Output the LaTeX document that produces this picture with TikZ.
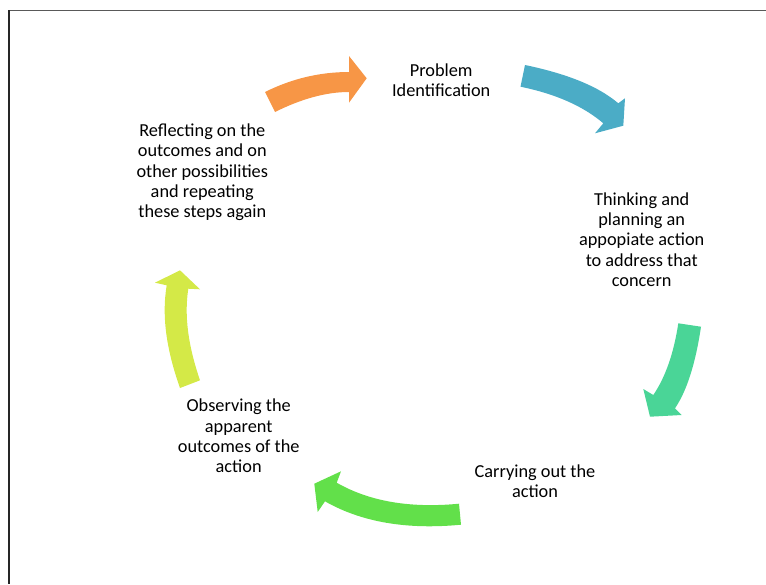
\documentclass[tikz,border=0pt]{standalone}
\usepackage{fontspec}
\setmainfont{Carlito}

\definecolor{cycorange}{HTML}{F79646}
\definecolor{cycblue}{HTML}{4BACC6}
\definecolor{cycteal}{HTML}{4AD597}
\definecolor{cycgreen}{HTML}{62E04A}
\definecolor{cycyellow}{HTML}{D4E947}

\begin{document}
\begin{tikzpicture}[x=1pt,y=-1pt,
        steptext/.style={align=center,anchor=base,inner sep=0pt,
            font=\fontsize{18.3}{20.3}\selectfont}]

        \useasboundingbox (0,0) rectangle (766,584);

        % Frame lines at top and left
        \draw[black!65,line width=1pt] (9.3,10.3) -- (766,10.3);
        \draw[black!85,line width=2pt] (9.3,10.3) -- (9.3,584);

        % The five steps of the cycle (placed by the baseline of their last line)
        \node[steptext] (prob) at (441.2,96.9) {Problem\\Identification};
        \node[steptext] (plan) at (641.7,286.3) {Thinking and\\planning an\\appopiate action\\to address that\\concern};
        \node[steptext] (act) at (535,497.8) {Carrying out the\\action};
        \node[steptext] (obs) at (238.7,472.7) {Observing the\\apparent\\outcomes of the\\action};
        \node[steptext] (refl) at (202.3,217.8) {Reflecting on the\\outcomes and on\\other possibilities\\and repeating\\these steps again};

        % Curved block arrows between the steps
        \fill[cycorange] (265,92) .. controls (291.7,78.7) and (319.7,72) .. (349,72)
            -- (349,56) -- (366.7,78.3) -- (349,102.7) -- (349,92)
            .. controls (326.3,92) and (301.7,98.7) .. (275,112) -- cycle;
        \fill[cycblue] (525,65) .. controls (567.7,73.9) and (598.8,86.6) .. (618.3,103.3)
            -- (625,98.3) -- (623.3,125.7) -- (595,133.3) -- (603.3,123.3)
            .. controls (583.4,106.2) and (555.8,94) .. (520.5,86.7) -- cycle;
        \fill[cycteal] (678.3,323.3) -- (701,326.7) .. controls (695.5,363.7) and (686.8,390.9) .. (675,408.3)
            -- (681.7,415) -- (650,416.7) -- (643.3,389) -- (653.3,395)
            .. controls (665.5,377) and (673.8,353.1) .. (678.3,323.3) -- cycle;
        \fill[cycgreen] (459,503.7) .. controls (410.1,508.4) and (369.3,501.4) .. (336.7,482.7)
            -- (341,471.3) -- (314.3,483.7) -- (317.7,512) -- (325,501.3)
            .. controls (361.3,522.1) and (406.7,529.9) .. (461,524.7) -- cycle;
        \fill[cycyellow] (180,388) .. controls (166.3,349.4) and (161.6,316) .. (166.7,285.3)
            -- (155,282.7) -- (180,270.3) -- (200,289.3) -- (188.3,288.7)
            .. controls (184,316.5) and (188.4,346.3) .. (200,380.3) -- cycle;

    \end{tikzpicture}
\end{document}
